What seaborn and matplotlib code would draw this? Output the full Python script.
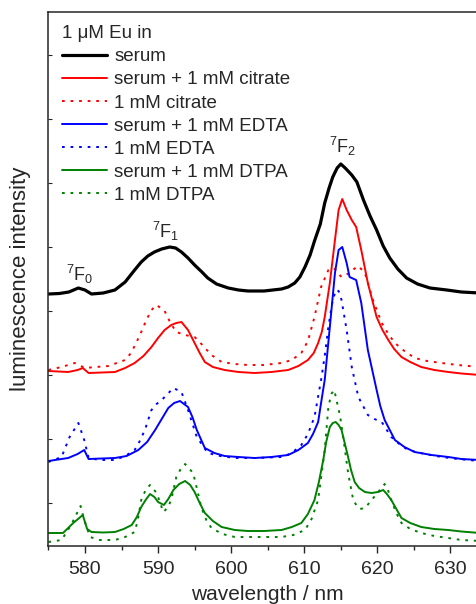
import numpy as np
import pandas as pd
import matplotlib
matplotlib.use("Agg")
import matplotlib.pyplot as plt
from matplotlib.ticker import MultipleLocator
import seaborn as sns

# Eu luminescence spectra, stacked (arbitrary intensity units incl. offset)
wl_serum = [575, 576.5, 577.8, 579.1, 580.0, 580.9, 582.5, 584.1, 585.5, 586.8, 587.7, 588.6,
            589.5, 590.5, 591.6, 592.4, 593.2, 594.1, 595.0, 596.0, 596.8, 598.0, 599.6,
            601.0, 602.3, 604.5, 606.9, 607.8, 608.7, 609.4, 610.1, 610.8, 611.4, 612.2,
            612.8, 613.4, 613.9, 614.5, 615.0, 615.6, 616.5, 617.2, 618.1, 619.0, 619.9,
            620.8, 621.7, 622.8, 624.0, 625.5, 627.2, 629.5, 631.5, 634]
int_serum = [252, 252.5, 254, 258, 256, 252, 253, 256, 264, 276, 284, 290,
             294, 297, 299, 298, 294, 288, 281, 274, 268, 262, 258,
             256, 255, 255, 257, 259, 263, 269, 279, 291, 305, 322,
             343, 358, 369, 378, 382, 378, 371, 364, 346, 330, 316,
             300, 288, 277, 268, 262, 258, 256, 254, 253]

wl_serum_cit = [575, 577.7, 579.0, 579.7, 580.5, 582.3, 584.1, 585.5, 586.8, 588.0, 589.1,
                590.0, 590.9, 591.8, 592.5, 593.2, 594.1, 595.0, 595.7, 596.4, 597.5, 599.1,
                601.0, 603.2, 605.5, 607.8, 609.2, 610.5, 611.3, 611.9, 612.4, 612.8, 613.5,
                614.2, 614.7, 615.2, 615.8, 616.5, 617.1, 617.8, 618.7, 619.9, 620.7, 621.5,
                622.3, 623.3, 624.5, 626.0, 627.8, 629.7, 631.5, 634]
int_serum_cit = [175, 174, 176, 178, 173, 173.5, 174, 178, 183, 190, 199,
                 208, 216, 221, 223, 224, 216, 203, 193, 184, 179, 176,
                 174, 173, 174, 176, 180, 186, 193, 203, 214, 229, 263,
                 306, 336, 347, 336, 326, 319, 296, 263, 229, 216, 206,
                 197, 189, 184, 179, 176, 174, 172.5, 171]

wl_cit = [575, 576.8, 578.6, 580.0, 581.5, 583.2, 585.5, 586.3, 587.0, 587.7, 588.4, 589.1,
          589.8, 590.9, 591.7, 592.5, 593.7, 595.0, 595.7, 596.4, 597.5, 598.7, 600.5,
          602.3, 604.5, 606.9, 608.3, 609.6, 610.5, 611.4, 612.3, 613.3, 613.8, 614.2,
          614.7, 615.1, 616.2, 616.8, 617.4, 618.3, 619.4, 620.6, 621.5, 622.4, 623.7,
          625.1, 626.8, 628.8, 631, 634]
int_cit = [176, 179, 183, 178, 179, 180, 186, 193, 203, 214, 226, 236,
           241, 235, 223, 214, 211, 209, 204, 198, 190, 184, 182,
           181, 181, 183, 186, 193, 205, 229, 259, 276, 278, 277,
           272, 269, 273, 277, 280, 273, 246, 223, 212, 203, 195,
           188, 185, 183, 181, 179]

wl_serum_edta = [575, 577.7, 579.0, 579.9, 580.5, 582.3, 584.1, 585.7, 587.3, 588.5, 589.6,
                 590.5, 591.4, 592.2, 593.0, 594.1, 594.7, 595.3, 596.4, 597.7, 599.1, 601.0,
                 603.2, 605.5, 607.8, 609.2, 610.5, 611.2, 611.9, 612.3, 612.8, 613.5, 614.2,
                 614.7, 615.2, 615.8, 616.2, 617.1, 617.8, 618.7, 619.9, 620.4, 621.0, 622.4,
                 623.7, 625.1, 627.4, 629.7, 631.5, 634]
int_serum_edta = [85, 88, 92, 96, 87, 87.5, 88, 90, 96, 104, 116,
                  127, 138, 143, 145, 139, 129, 116, 98, 93, 90, 89,
                  88, 89, 91, 96, 103, 112, 124, 143, 166, 219, 273,
                  296, 299, 283, 269, 266, 243, 196, 156, 140, 126, 106,
                  99, 94, 91, 89, 87, 86]

wl_edta = [575, 576.8, 577.9, 579.1, 579.9, 580.5, 582.0, 584.1, 585.5, 586.8, 587.5, 588.2,
           589.1, 589.8, 590.5, 591.3, 592.1, 593.2, 594.1, 595.3, 596.8, 598.5, 600.5,
           603.5, 606.9, 608.3, 609.6, 610.5, 611.4, 612.3, 612.8, 613.3, 613.8, 614.3,
           614.7, 615.1, 615.8, 616.5, 617.4, 618.7, 619.6, 620.6, 621.9, 623.0, 624.2,
           626.5, 628.8, 631, 634]
int_edta = [84, 89, 109, 123, 106, 88, 86, 86, 90, 96, 105, 116,
            136, 142, 146, 152, 158, 154, 136, 109, 93, 90, 88,
            88, 89, 93, 101, 112, 129, 166, 190, 219, 242, 256,
            255, 246, 216, 179, 149, 131, 127, 124, 109, 102, 96,
            92, 89, 87, 85]

wl_serum_dtpa = [575, 576, 577.0, 578.4, 579.7, 580.3, 580.9, 582.5, 584.1, 585.3, 586.4,
                 587.1, 587.7, 588.3, 588.9, 589.5, 590.0, 590.8, 591.4, 592.1, 592.9, 593.7,
                 594.4, 595.0, 595.7, 596.4, 597.5, 598.7, 600.5, 602.3, 604.5, 606.9, 608.3,
                 609.6, 610.5, 611.4, 612.0, 612.6, 613.0, 613.5, 613.9, 614.3, 614.7, 615.1,
                 615.5, 616.0, 616.4, 616.9, 617.5, 618.3, 619.2, 620.1, 620.8, 621.3, 621.9,
                 622.6, 623.3, 624.5, 626.0, 627.8, 629.7, 631.5, 634]
int_serum_dtpa = [13, 13, 13, 23, 31, 17, 14, 13.5, 14, 17, 21,
                  29, 39, 46, 52, 49, 44, 41, 47, 56, 62, 65,
                  61, 54, 43, 33, 25, 19, 16, 15, 15, 16, 19,
                  23, 32, 46, 64, 86, 104, 119, 123, 124, 121, 116,
                  104, 89, 76, 64, 58, 54, 53, 54, 56, 52, 46,
                  37, 28, 23, 19, 17, 16, 14.5, 13]

wl_dtpa = [575, 576.8, 578.1, 579.4, 579.9, 580.7, 582.0, 584.1, 585.5, 586.8, 587.2, 587.7,
           588.3, 588.9, 589.8, 590.3, 590.7, 591.3, 591.8, 592.5, 593.1, 593.7, 594.8,
           595.3, 595.9, 596.6, 597.3, 598.8, 600.5, 603.5, 606.9, 608.5, 610.1, 611.0,
           611.9, 612.3, 612.8, 613.3, 613.7, 614.1, 614.9, 615.5, 616.0, 616.7, 617.2,
           617.6, 618.3, 619.0, 620.0, 621.0, 621.4, 621.9, 622.6, 623.3, 624.5, 626.0,
           627.8, 629.7, 631.5, 634]
int_dtpa = [4, 6, 21, 40, 26, 9, 6, 6, 9, 14, 25, 46,
            56, 61, 53, 43, 34, 38, 46, 69, 77, 82, 73,
            58, 39, 26, 18, 12, 9, 9, 9, 11, 16, 27,
            46, 68, 96, 139, 152, 156, 130, 100, 73, 46, 40,
            37, 38, 44, 53, 62, 57, 46, 33, 23, 17, 13,
            10, 8, 6, 5]

labels = ["serum", "serum + 1 mM citrate", "1 mM citrate", "serum + 1 mM EDTA",
          "1 mM EDTA", "serum + 1 mM DTPA", "1 mM DTPA"]
series = [(wl_serum, int_serum), (wl_serum_cit, int_serum_cit), (wl_cit, int_cit),
          (wl_serum_edta, int_serum_edta), (wl_edta, int_edta),
          (wl_serum_dtpa, int_serum_dtpa), (wl_dtpa, int_dtpa)]
colors = ["black", "#ff0000", "#ff0000", "#0000ff", "#0000ff", "#008000", "#008000"]
dotted = [False, False, True, False, True, False, True]

# transition labels
trans_text = [r"$^{7}$F$_{0}$", r"$^{7}$F$_{1}$", r"$^{7}$F$_{2}$"]
trans_x = [579.3, 591.1, 615.2]
trans_y = [272, 315, 400]

sns.set_style("ticks")
plt.rcParams["font.family"] = ["Liberation Sans", "DejaVu Sans"]
plt.rcParams["mathtext.fontset"] = "custom"
plt.rcParams["mathtext.rm"] = "Liberation Sans"
plt.rcParams["mathtext.it"] = "Liberation Sans"

fig = plt.figure(figsize=(4.77, 6.04), dpi=100)
ax = fig.add_axes([48.4 / 477, 58 / 604, (487 - 48.4) / 477, 534 / 604])

for (wl, val), lab, col, dot in zip(series, labels, colors, dotted):
    df = pd.DataFrame({"wl": wl, "I": val})
    lw = 2.3 if col == "black" else 1.4
    ls = (0, (1.4, 3.0)) if dot else "-"
    sns.lineplot(data=df, x="wl", y="I", ax=ax, color=col, lw=lw, linestyle=ls,
                 label=lab, sort=False)

for t, x, y in zip(trans_text, trans_x, trans_y):
    ax.text(x, y, t, ha="center", va="center", fontsize=13)

ax.set_xlim(575, 635)
ax.set_ylim(0, 534)
ax.xaxis.set_major_locator(MultipleLocator(10))
ax.xaxis.set_minor_locator(MultipleLocator(5))
ax.set_yticks([43, 107, 171, 235, 299, 363, 427, 491])
ax.set_yticklabels([])
ax.tick_params(axis="x", which="major", direction="out", length=5, width=1, labelsize=14, pad=6)
ax.tick_params(axis="x", which="minor", direction="out", length=3, width=1)
ax.tick_params(axis="y", direction="in", length=3, width=0.8)
for s in ax.spines.values():
    s.set_linewidth(1.1)

ax.set_xlabel("wavelength / nm", fontsize=15, labelpad=5)
ax.set_ylabel("luminescence intensity", fontsize=16, labelpad=9)

leg = ax.legend(title="1 μM Eu in", loc="upper left", frameon=False, fontsize=13.5,
                title_fontsize=13.5, handlelength=2.4, handletextpad=0.4,
                labelspacing=0.32, borderaxespad=0.3, alignment="left")

plt.savefig("out.png", dpi=100)
